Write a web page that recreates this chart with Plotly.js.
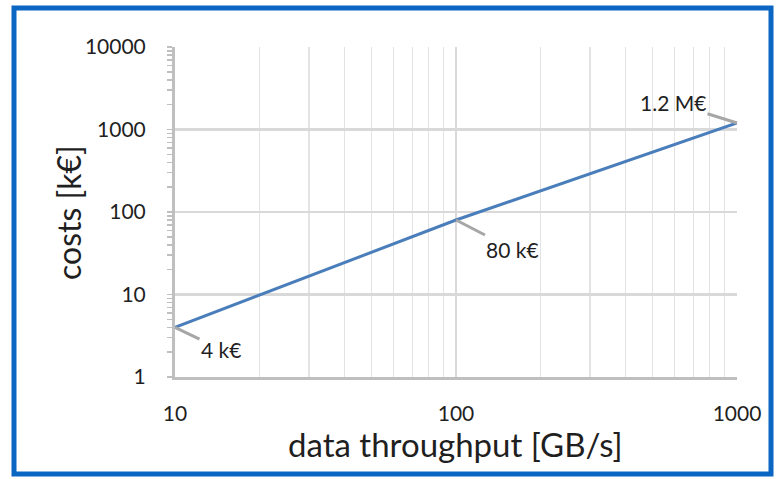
<!DOCTYPE html>
<html><head><meta charset="utf-8">
<script src="https://cdn.plot.ly/plotly-3.0.1.min.js"></script>
<style>html,body{margin:0;padding:0;background:#fff}#chart{width:778px;height:479px}</style>
</head><body><div id="chart"></div>
<script>
const throughput = [10, 100, 1000];          // GB/s
const costs = [4, 80, 1200];                 // k€
const labels = ['4 k€', '80 k€', '1.2 M€'];
const labelOffsets = [[46, 22], [56, 29], [-64, -20]];
const xTickVals = [10, 100, 1000];
const yTickVals = [1, 10, 100, 1000, 10000];
const xTitle = 'data throughput [GB/s]';
const yTitle = 'costs [k€]';

const M = {l: 175, r: 41, t: 47, b: 102};
const W = 778, H = 479;
const pw = W - M.l - M.r, ph = H - M.t - M.b;
const px = v => (v - M.l) / pw;
const py = v => (H - M.b - v) / ph;

const font = 'Lato, "Open Sans", sans-serif';
const txt = '#1f1f1f';

const trace = {
  x: throughput, y: costs, type: 'scatter', mode: 'lines',
  line: {color: '#4a7ebb', width: 3}, hoverinfo: 'skip'
};

const annotations = throughput.map((x, i) => ({
  x: Math.log10(x), y: Math.log10(costs[i]), xref: 'x', yref: 'y',
  text: labels[i], showarrow: true, arrowhead: 0, arrowwidth: 3,
  arrowcolor: '#a6a6a6', ax: labelOffsets[i][0], ay: labelOffsets[i][1],
  standoff: 0, font: {family: font, size: 21, color: txt}
}));
annotations.push({
  xref: 'paper', yref: 'paper', x: px(68), y: py(213), textangle: -90,
  text: yTitle, showarrow: false, xanchor: 'center', yanchor: 'middle',
  font: {family: font, size: 32, color: txt}
});
annotations.push({
  xref: 'paper', yref: 'paper', x: px(455), y: py(444),
  text: xTitle, showarrow: false, xanchor: 'center', yanchor: 'middle',
  font: {family: font, size: 33, color: txt}
});

const layout = {
  width: W, height: H, margin: M,
  paper_bgcolor: '#fff', plot_bgcolor: '#fff', showlegend: false,
  font: {family: font, color: txt},
  xaxis: {
    type: 'log', range: [1, 3], tickvals: xTickVals, ticktext: xTickVals.map(String),
    showline: true, linecolor: '#bfbfbf', linewidth: 3,
    showgrid: true, gridcolor: '#d9d9d9', gridwidth: 2.5,
    ticks: 'outside', ticklen: 0, ticklabelstandoff: 16,
    tickfont: {family: font, size: 21, color: txt},
    minor: {dtick: 'D1', showgrid: true, gridcolor: '#e3e3e3', gridwidth: 1.2, ticks: ''},
    zeroline: false
  },
  yaxis: {
    type: 'log', range: [0, 4], tickvals: yTickVals, ticktext: yTickVals.map(String),
    showline: true, linecolor: '#bfbfbf', linewidth: 3,
    showgrid: true, gridcolor: '#d9d9d9', gridwidth: 2.5,
    ticks: 'outside', ticklen: 0, ticklabelstandoff: 22,
    tickfont: {family: font, size: 21, color: txt},
    minor: {dtick: 'D1', showgrid: false, ticks: 'outside', ticklen: 5, tickcolor: '#bfbfbf', tickwidth: 1.5},
    zeroline: false
  },
  annotations: annotations,
  shapes: [{
    type: 'rect', xref: 'paper', yref: 'paper',
    x0: px(14), x1: px(771), y0: py(474), y1: py(8),
    line: {color: '#0a66c2', width: 5}, fillcolor: 'rgba(0,0,0,0)', layer: 'above'
  }]
};

Plotly.newPlot('chart', [trace], layout, {displayModeBar: false, staticPlot: true});
</script></body></html>
